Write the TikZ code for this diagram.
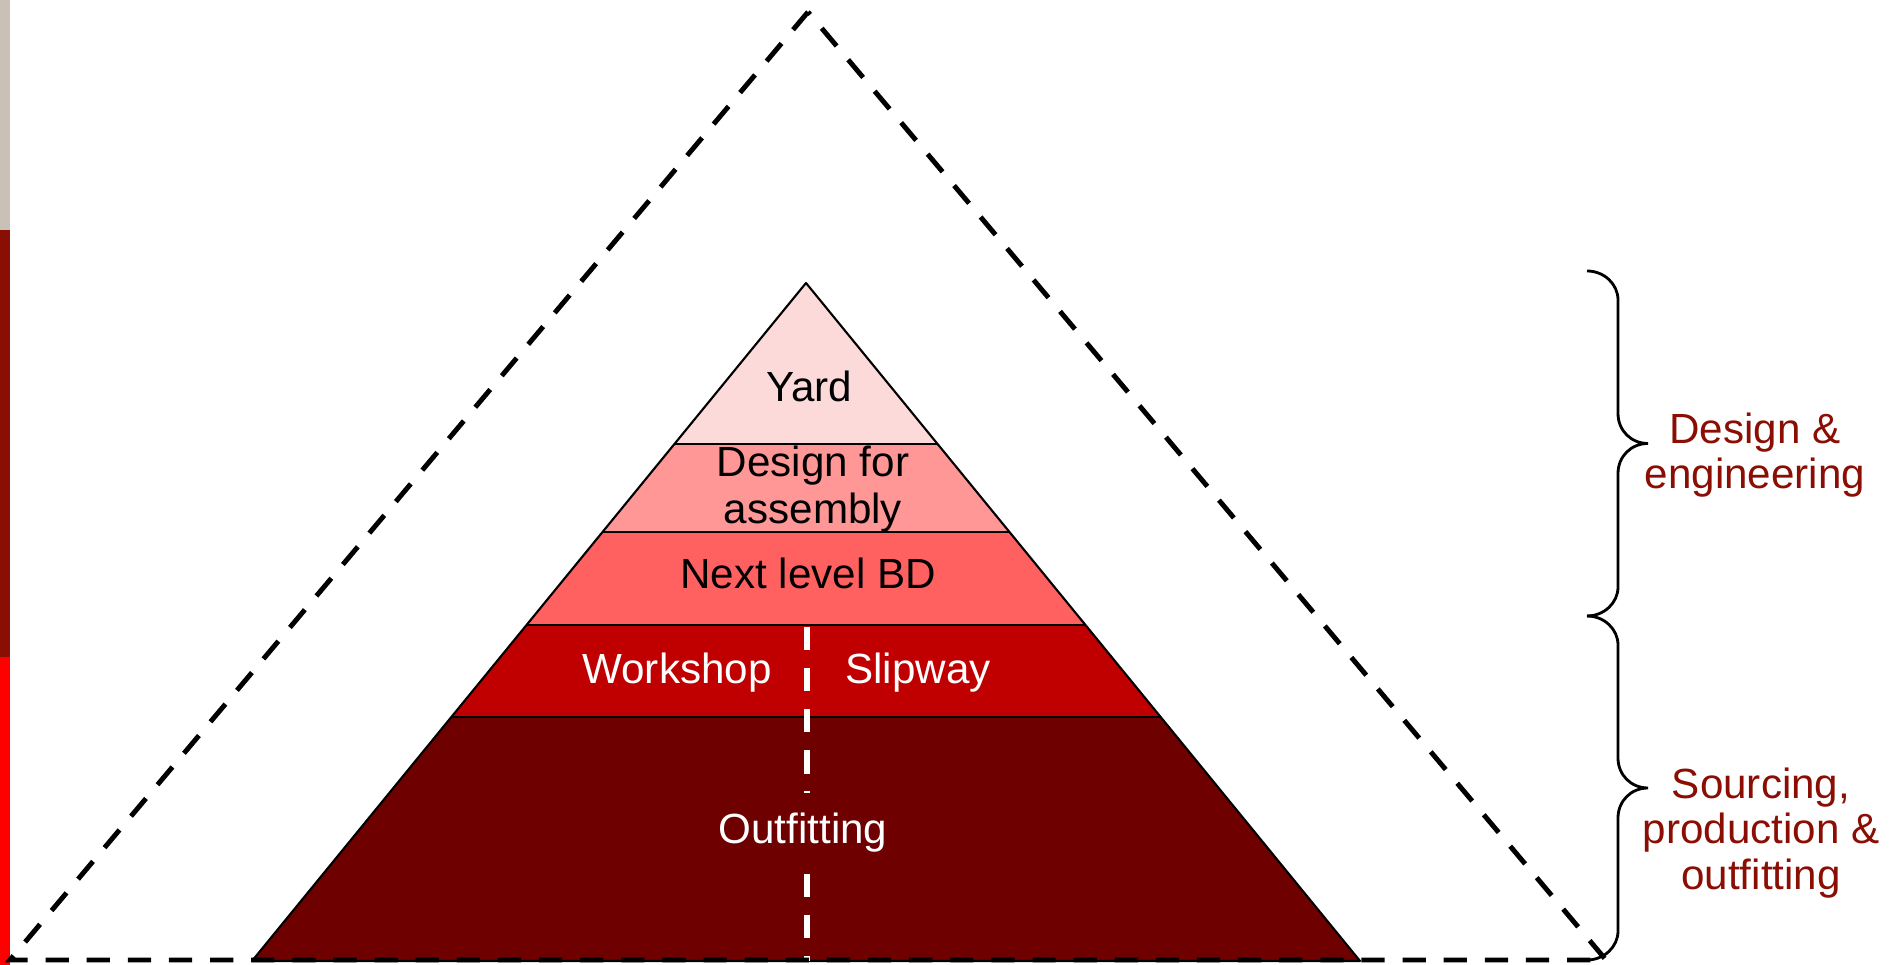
\documentclass[tikz,border=0pt]{standalone}
\usepackage{fontspec}
\setmainfont{Liberation Sans}
\usepackage{xcolor}
\usepackage{tikz}
\usetikzlibrary{calc}
\usetikzlibrary{positioning}
\definecolor{barGrey}{HTML}{C9C0B6}
\definecolor{barDark}{HTML}{8B0E04}
\definecolor{barRed}{HTML}{FF0000}
\definecolor{layYard}{HTML}{FCDADA}
\definecolor{layDesign}{HTML}{FF9797}
\definecolor{layNext}{HTML}{FF6161}
\definecolor{layShop}{HTML}{C00000}
\definecolor{layOutfit}{HTML}{6E0000}
\colorlet{sideText}{barDark}
% a curly brace on the right: x, top y, bottom y
\newcommand{\sidebrace}[3]{%
\pgfmathsetmacro{\Xs}{#1+0.31}\pgfmathsetmacro{\Xt}{#1+0.61}%
\pgfmathsetmacro{\Ym}{(#2+#3)/2}%
\draw[Brace] (#1,#2) .. controls (#1+0.17,#2) and (\Xs,#2-0.13) .. (\Xs,#2-0.29)
 -- (\Xs,\Ym+0.30) .. controls (\Xs,\Ym+0.13) and (\Xt-0.17,\Ym) .. (\Xt,\Ym)
 .. controls (\Xt-0.17,\Ym) and (\Xs,\Ym-0.13) .. (\Xs,\Ym-0.30)
 -- (\Xs,#3+0.29) .. controls (\Xs,#3+0.13) and (#1+0.17,#3) .. (#1,#3)}

\begin{document}
\begin{tikzpicture}[
Layer/.style={draw=black,line width=0.6pt,line join=round},
OuterDash/.style={draw=black,line width=1.4pt,dash pattern=on 6.6pt off 5.1pt},
InnerDash/.style={draw=white,line width=1.5pt,dash pattern=on 6.6pt off 5.1pt},
Brace/.style={draw=black,line width=0.8pt},
LayerText/.style={font=\fontsize{12}{13.5}\selectfont,align=center,inner sep=1pt},
SideText/.style={font=\fontsize{12}{13}\selectfont,align=center,text=sideText}
]
\useasboundingbox (0,0) rectangle (19.02,9.65);

% coloured bar on the left edge
\fill[barGrey] (0,9.65) rectangle (0.10,7.35);
\fill[barDark] (0,7.35) rectangle (0.10,3.08);
\fill[barRed] (0,3.08) rectangle (0.10,0);

% outer dashed triangle
\coordinate (OTop) at (8.08,9.53);
\coordinate (OLeft) at (0.10,0.05);
\coordinate (ORight) at (16.06,0.05);

% inner pyramid
\coordinate (PTop) at (8.06,6.82);
\coordinate (PLeft) at (2.52,0.04);
\coordinate (PRight) at (13.60,0.04);

% Let L_i and R_i be the ends of the layer borders
\foreach \t [count=\i] in {0.2375,0.3673,0.5044,0.6401}{
  \coordinate (L\i) at ($(PTop)!\t!(PLeft)$);
  \coordinate (R\i) at ($(PTop)!\t!(PRight)$);
}

\fill[layYard] (PTop)--(L1)--(R1)--cycle;
\fill[layDesign] (L1)--(L2)--(R2)--(R1)--cycle;
\fill[layNext] (L2)--(L3)--(R3)--(R2)--cycle;
\fill[layShop] (L3)--(L4)--(R4)--(R3)--cycle;
\fill[layOutfit] (L4)--(PLeft)--(PRight)--(R4)--cycle;

\draw[Layer] (PTop)--(PLeft)--(PRight)--cycle;
\foreach \i in {1,...,4} \draw[Layer] (L\i)--(R\i);

% white split between workshop and slipway
\coordinate (SplitTop) at (8.07,3.38);
\coordinate (SplitBot) at (8.07,0.04);
\draw[InnerDash] (SplitTop)--(SplitBot);

\draw[OuterDash] (OTop)--(OLeft)--(ORight)--cycle;

% layer labels
\node[LayerText] (yard) at (8.09,5.79) {Yard};
\node[LayerText] (dfa) at (8.13,4.76) {Design for\\assembly};
\node[LayerText] (nextbd) at (8.08,3.92) {Next level BD};
\node[LayerText,text=white] (workshop) at (6.77,2.92) {Workshop};
\node[LayerText,text=white] (slipway) at (9.18,2.92) {Slipway};
\node[LayerText,text=white,fill=layOutfit,inner xsep=3pt,inner ysep=0.2cm] (outfit) at (8.03,1.32) {Outfitting};

% braces and side labels
\sidebrace{15.87}{6.94}{3.49};
\sidebrace{15.87}{3.49}{0.05};
\node[SideText] (design) at (17.55,5.10) {Design \&\\engineering};
\node[SideText] (sourcing) at (17.61,1.32) {Sourcing,\\production \&\\outfitting};

\end{tikzpicture}
\end{document}
